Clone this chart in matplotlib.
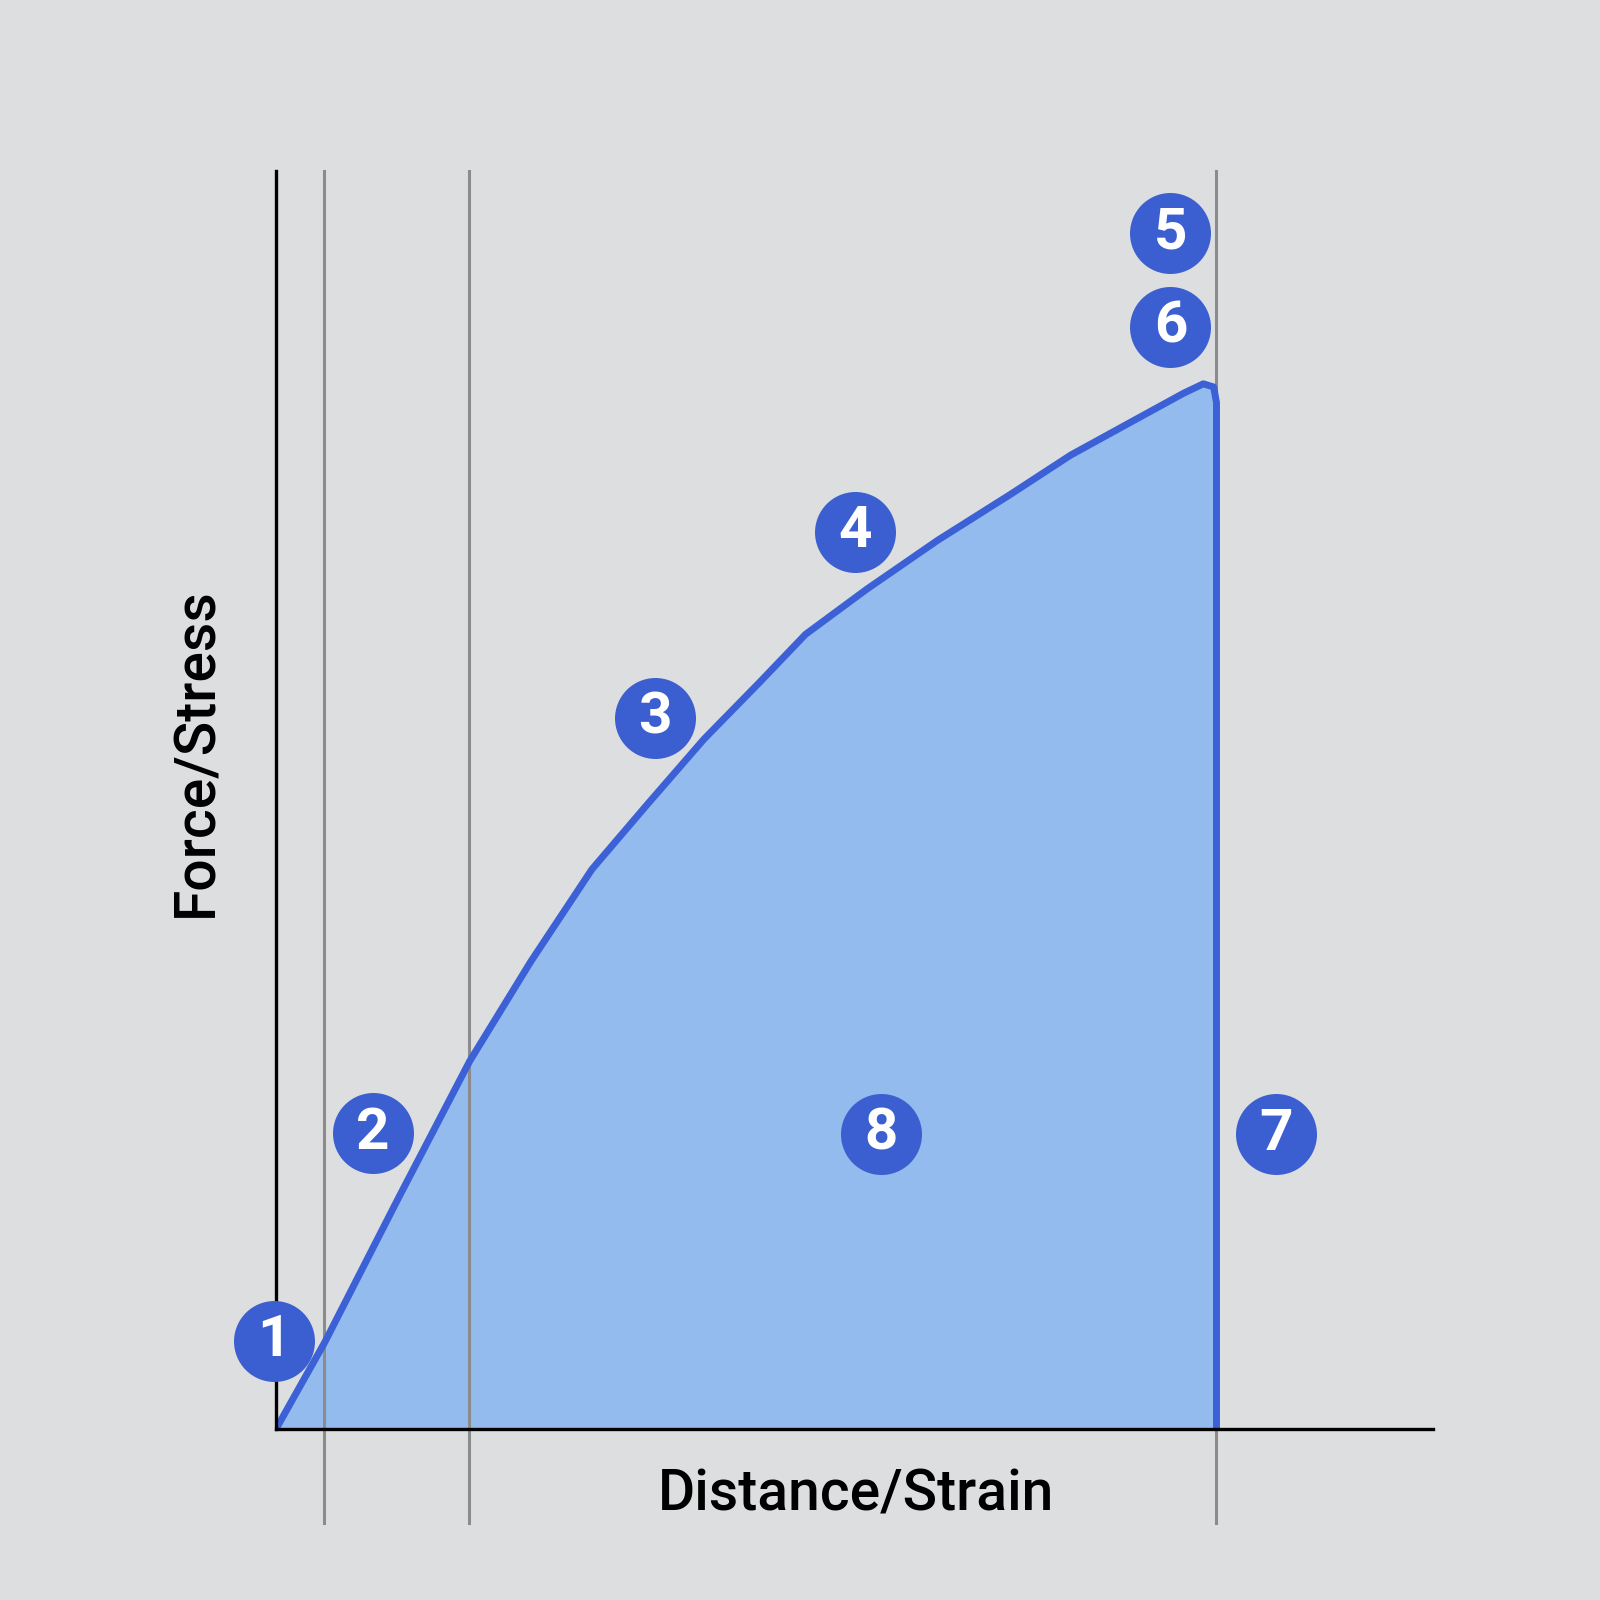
import matplotlib
matplotlib.use("Agg")
import matplotlib.pyplot as plt

plt.rcParams["font.family"] = ["Roboto", "DejaVu Sans"]

BG = "#dddee0"
FILL = "#94bbee"
LINE = "#3c61d6"
BADGE = "#3b5fd1"
GRAY = "#8c8c8c"

strain = [0.0, 0.052, 0.130, 0.206, 0.271, 0.336, 0.395, 0.455, 0.515, 0.563,
          0.628, 0.704, 0.780, 0.845, 0.910, 0.965, 0.986, 0.997, 1.0, 1.0]
stress = [0.0, 0.083, 0.220, 0.351, 0.446, 0.534, 0.596, 0.658, 0.713, 0.758,
          0.801, 0.848, 0.891, 0.929, 0.961, 0.988, 0.997, 0.994, 0.979, 0.0]

# senkrechte Hilfslinien
markers_x = [0.051, 0.205, 1.0]

# nummerierte Punkte
badge_labels = ["1", "2", "3", "4", "5", "6", "7", "8"]
badge_x = [-0.002, 0.103, 0.403, 0.616, 0.951, 0.951, 1.063, 0.643]
badge_y = [0.084, 0.282, 0.678, 0.856, 1.141, 1.051, 0.281, 0.281]

fig = plt.figure(figsize=(16, 16), dpi=100, facecolor=BG)
ax = fig.add_axes([0.1725, 0.106875, 0.723, 0.78625])
ax.set_facecolor(BG)
ax.set_xlim(0, 1.23)
ax.set_ylim(0, 1.2)

ax.fill_between(strain, stress, 0, color=FILL, lw=0, zorder=1)
for x in markers_x:
    ax.plot([x, x], [-0.09, 1.2], color=GRAY, lw=2.2, clip_on=False, zorder=2)
ax.plot(strain, stress, color=LINE, lw=5, solid_joinstyle="round",
        solid_capstyle="butt", zorder=3)

ax.scatter(badge_x, badge_y, s=3400, color=BADGE, linewidth=0,
           zorder=5, clip_on=False)
for lab, x, y in zip(badge_labels, badge_x, badge_y):
    ax.text(x, y, lab, color="white", fontsize=42, fontweight="bold",
            ha="center", va="center", zorder=6, clip_on=False)

for side in ("top", "right"):
    ax.spines[side].set_visible(False)
for side in ("left", "bottom"):
    ax.spines[side].set_linewidth(2.4)
    ax.spines[side].set_color("black")
    ax.spines[side].set_zorder(4)
ax.set_xticks([])
ax.set_yticks([])

fig.text(856 / 1600, 1 - 1495 / 1600, "Distance/Strain", fontsize=41,
         fontweight="medium", ha="center", va="center")
fig.text(197 / 1600, 1 - 752 / 1600, "Force/Stress", fontsize=41,
         fontweight="medium", ha="center", va="center", rotation=90)

fig.savefig("out.png", dpi=100, facecolor=BG)
